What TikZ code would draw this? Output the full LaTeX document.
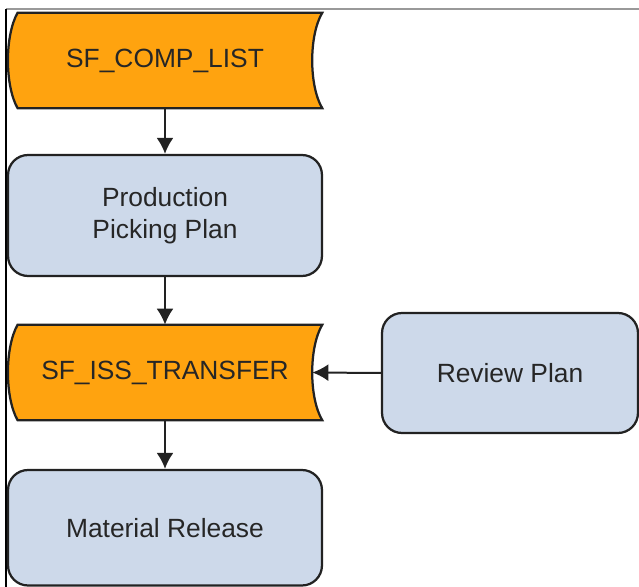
\documentclass[tikz,border=0pt]{standalone}
\usepackage{fontspec}
\setmainfont{Liberation Sans}
\usetikzlibrary{arrows.meta,backgrounds}
\definecolor{dataorange}{RGB}{255,163,15}
\definecolor{stepblue}{RGB}{205,217,234}
\definecolor{edgegray}{RGB}{34,34,34}
\begin{document}
\begin{tikzpicture}[x=0.02cm, y=-0.02cm, font=\fontsize{15}{18}\selectfont, >={Latex[length=0.32cm, width=0.34cm]},
          lbl/.style={text=black!85, align=center, inner sep=0pt},
          datanode/.style={lbl, minimum width=6.28cm, minimum height=1.9cm},
          datafill/.style={fill=dataorange, draw=edgegray, line width=0.045cm},
          stepbox/.style={lbl, draw=edgegray, fill=stepblue, line width=0.045cm,
                          rounded corners=0.4cm, minimum width=6.28cm},
          flow/.style={->, line width=0.04cm, draw=edgegray}]
        % page is 639 x 587 px, 1 px = 0.02cm
        \useasboundingbox (0,0) rectangle (639,587);
        \draw[gray!80, line width=0.04cm] (6,9) -- (639,9);
        \draw[black, line width=0.04cm] (6,9) -- (6,587);
        \node[datanode] (comp) at (165,60.5) {SF\_COMP\_LIST};
        \node[stepbox, minimum height=2.42cm] (plan) at (165,215.5) {Production\\Picking Plan};
        \node[datanode] (iss) at (165,372.5) {SF\_ISS\_TRANSFER};
        \node[stepbox, minimum width=5.12cm, minimum height=2.4cm] (review) at (510,373) {Review Plan};
        \node[stepbox, minimum height=2.31cm] (rel) at (165,527.75) {Material Release};
        % stored-data outlines behind the two orange nodes
        \begin{scope}[on background layer]
        \draw[datafill] ([xshift=0.2cm]comp.north west)
          .. controls ([xshift=-0.06cm, yshift=-0.45cm]comp.north west) and ([xshift=-0.06cm, yshift=0.45cm]comp.south west)
          .. ([xshift=0.2cm]comp.south west) -- (comp.south east)
          .. controls ([xshift=-0.27cm, yshift=0.45cm]comp.south east) and ([xshift=-0.27cm, yshift=-0.45cm]comp.north east)
          .. (comp.north east) -- cycle;
        \draw[datafill] ([xshift=0.2cm]iss.north west)
          .. controls ([xshift=-0.06cm, yshift=-0.45cm]iss.north west) and ([xshift=-0.06cm, yshift=0.45cm]iss.south west)
          .. ([xshift=0.2cm]iss.south west) -- (iss.south east)
          .. controls ([xshift=-0.27cm, yshift=0.45cm]iss.south east) and ([xshift=-0.27cm, yshift=-0.45cm]iss.north east)
          .. (iss.north east) -- cycle;
        \end{scope}
        \draw[flow] (comp) -- (plan);
        \draw[flow] (plan) -- (iss);
        \draw[flow] (iss) -- (rel);
        \draw[flow] (review.west) -- ([xshift=-0.2cm]iss.east);
      \end{tikzpicture}
\end{document}
